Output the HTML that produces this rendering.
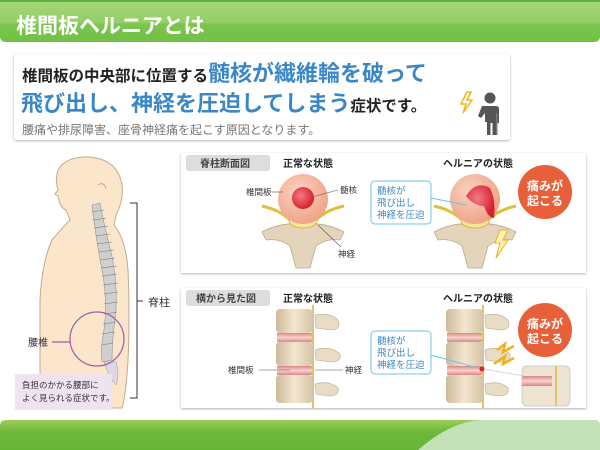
<!DOCTYPE html>
<html><head><meta charset="utf-8"><style>
html,body{margin:0;padding:0;background:#fff}
svg{display:block}
text{font-family:"Liberation Sans","Noto Sans CJK JP",sans-serif}
</style></head><body>
<svg width="600" height="450" viewBox="0 0 600 450" xmlns="http://www.w3.org/2000/svg">
<defs>
<linearGradient id="hg" x1="0" y1="0" x2="0" y2="1"><stop offset="0" stop-color="#a4d77c"/><stop offset="0.55" stop-color="#93cf67"/><stop offset="0.56" stop-color="#7cc64e"/><stop offset="1" stop-color="#72c045"/></linearGradient>
<linearGradient id="bg" x1="0" y1="0" x2="0" y2="1"><stop offset="0" stop-color="#9ccd55"/><stop offset="0.4" stop-color="#6db93a"/><stop offset="1" stop-color="#66b636"/></linearGradient>
<radialGradient id="disc" cx="0.4" cy="0.35" r="0.7"><stop offset="0" stop-color="#fbd2c0"/><stop offset="1" stop-color="#eea184"/></radialGradient>
<radialGradient id="nuc" cx="0.4" cy="0.4" r="0.6"><stop offset="0" stop-color="#f47a85"/><stop offset="1" stop-color="#d8202f"/></radialGradient>
<linearGradient id="vb" x1="0" y1="0" x2="1" y2="0"><stop offset="0" stop-color="#cdb99a"/><stop offset="0.5" stop-color="#f3e6cf"/><stop offset="1" stop-color="#d6c3a4"/></linearGradient>
<linearGradient id="pd" x1="0" y1="0" x2="0" y2="1"><stop offset="0" stop-color="#d9858a"/><stop offset="0.5" stop-color="#fbd3cc"/><stop offset="1" stop-color="#d9858a"/></linearGradient>
<filter id="sh" x="-5%" y="-5%" width="110%" height="115%"><feDropShadow dx="0" dy="1" stdDeviation="1.2" flood-color="#000" flood-opacity="0.3"/></filter>
</defs>

<!-- header -->
<path d="M0 0H600V36Q600 42 594 42H6Q0 42 0 36Z" fill="url(#hg)"/>
<rect x="0" y="0" width="600" height="2" fill="#5fb03a"/>
<text x="16" y="33" font-size="21" fill="#fff" font-weight="bold">椎間板ヘルニアとは</text>

<!-- intro card -->
<rect x="14" y="54" width="496" height="86" rx="3" fill="#fff" filter="url(#sh)"/>
<text x="22" y="81" font-size="15.5" font-weight="bold" fill="#222">椎間板の中央部に位置する<tspan font-size="22" fill="#3a87c8">髄核が繊維輪を破って</tspan></text>
<text x="21" y="111" font-size="22" font-weight="bold" fill="#3a87c8">飛び出し、神経を圧迫してしまう<tspan font-size="15.5" fill="#222">症状です。</tspan></text>
<text x="22" y="134" font-size="12" fill="#777">腰痛や排尿障害、座骨神経痛を起こす原因となります。</text>
<!-- person icon -->
<g fill="#555">
<circle cx="490" cy="98" r="5.5"/>
<path d="M482 106h14q3 0 3 3v14h-3v12h-3.5v-12h-2v12h-3.5v-13h-2v-9l-4 5-3-2z"/>
<rect x="496" y="113" width="1.5" height="22" fill="#777"/>
</g>
<path d="M467 92 461 104 466 104 463 113 472 100 467 100 471 92Z" fill="none" stroke="#f3b619" stroke-width="1.5"/>

<!-- body figure -->
<path d="M40 408 L40 300 Q42 262 52 240 Q62 228 70 220 L66 210 Q60 208 58 196 L55 194 L58 190 Q55 180 58 170 Q66 156 90 157 Q118 160 122 185 Q124 200 116 215 L114 225 Q126 240 128 270 Q130 320 128 360 Q126 395 122 408 Z" fill="#fbe6cc" stroke="#c5a98c" stroke-width="1"/>
<path d="M98 185 q6 -4 8 4" fill="none" stroke="#c5a98c"/>
<g fill="#cfcfcf" stroke="#888" stroke-width="0.5">
<path d="M92 205 Q96 240 102 270 Q108 300 104 330 Q100 350 102 362 L112 360 Q112 340 116 310 Q118 275 108 240 Q102 215 100 203 Z"/>
</g>
<g stroke="#777" stroke-width="0.6">
<line x1="92" y1="212" x2="104" y2="210"/><line x1="93" y1="220" x2="106" y2="218"/><line x1="94" y1="228" x2="108" y2="226"/><line x1="96" y1="236" x2="110" y2="234"/><line x1="97" y1="244" x2="112" y2="242"/><line x1="99" y1="252" x2="114" y2="250"/><line x1="100" y1="260" x2="115" y2="258"/><line x1="101" y1="268" x2="117" y2="266"/><line x1="102" y1="276" x2="117" y2="274"/><line x1="103" y1="285" x2="118" y2="283"/><line x1="104" y1="294" x2="118" y2="292"/><line x1="104" y1="304" x2="118" y2="302"/><line x1="104" y1="314" x2="117" y2="312"/><line x1="103" y1="324" x2="116" y2="322"/><line x1="102" y1="334" x2="115" y2="332"/><line x1="102" y1="345" x2="113" y2="343"/>
</g>
<path d="M104 362 Q110 380 116 385 Q120 376 116 362Z" fill="#ddd6e6" stroke="#999" stroke-width="0.5"/>
<circle cx="97" cy="339" r="27" fill="none" stroke="#a35aa6" stroke-width="1.2"/>
<line x1="52" y1="342" x2="70" y2="342" stroke="#a35aa6" stroke-width="1.2"/>
<text x="28" y="346" font-size="10" fill="#333">腰椎</text>
<rect x="15" y="374" width="97" height="36" fill="#efe3ef"/>
<text x="22" y="388" font-size="8.5" fill="#333">負担のかかる腰部に</text>
<text x="22" y="401" font-size="8.5" fill="#333">よく見られる症状です。</text>
<path d="M130 203H137V398H130M137 301H143" fill="none" stroke="#333" stroke-width="1"/>
<text x="148" y="306" font-size="11" fill="#333">脊柱</text>

<!-- panel 1 -->
<rect x="181" y="153" width="405" height="120" fill="#fff" filter="url(#sh)"/>
<rect x="186" y="155" width="84" height="16" rx="3" fill="#ddd"/>
<text x="200" y="167" font-size="10" font-weight="bold" fill="#444">脊柱断面図</text>
<text x="283" y="167" font-size="10" font-weight="bold" fill="#222">正常な状態</text>
<text x="443" y="167" font-size="10" font-weight="bold" fill="#222">ヘルニアの状態</text>

<g id="cross">
<path d="M262 232 Q280 222 303 224 Q326 222 344 232 L340 240 Q326 238 316 246 L310 268 L296 268 L290 246 Q280 238 266 240 Z" fill="#e4d4bb" stroke="#bda888" stroke-width="0.8"/>
<path d="M262 206 Q280 210 290 220 Q303 228 316 220 Q326 210 344 206" fill="none" stroke="#dcc23a" stroke-width="3"/>
<ellipse cx="303" cy="221" rx="14" ry="7" fill="#f8e59a" stroke="#d8b63a"/>
<circle cx="303" cy="199" r="25" fill="url(#disc)"/>
</g>
<circle cx="303" cy="198" r="11" fill="url(#nuc)"/>
<text x="246" y="195" font-size="8.5" fill="#333">椎間板</text>
<line x1="272" y1="192" x2="283" y2="192" stroke="#555" stroke-width="0.6"/>
<text x="340" y="193" font-size="8.5" fill="#333">髄核</text>
<line x1="338" y1="190" x2="312" y2="197" stroke="#555" stroke-width="0.6"/>
<text x="338" y="257" font-size="8.5" fill="#333">神経</text>
<line x1="341" y1="247" x2="318" y2="225" stroke="#555" stroke-width="0.6"/>

<use href="#cross" x="172"/>
<path d="M466 196 Q476 180 490 188 Q496 200 494 218 Q488 218 484 206 Q474 206 466 196Z" fill="url(#nuc)"/>
<path d="M500 230 L495 243 L500 243 L496 258 L508 240 L503 240 L508 230Z" fill="#fff3b0" stroke="#f0b020"/>
<rect x="371" y="181" width="60" height="43" rx="4" fill="#fff" stroke="#6cc4ea"/>
<line x1="431" y1="198" x2="466" y2="205" stroke="#6cc4ea"/>
<text x="377" y="194" font-size="9.5" fill="#3a87c8">髄核が</text>
<text x="377" y="206" font-size="9.5" fill="#3a87c8">飛び出し</text>
<text x="377" y="218" font-size="9.5" fill="#3a87c8">神経を圧迫</text>
<circle cx="545" cy="192" r="27" fill="#e8603a"/>
<text x="545" y="190" font-size="12" font-weight="bold" fill="#fff" text-anchor="middle">痛みが</text>
<text x="545" y="205" font-size="12" font-weight="bold" fill="#fff" text-anchor="middle">起こる</text>

<!-- panel 2 -->
<rect x="181" y="288" width="405" height="120" fill="#fff" filter="url(#sh)"/>
<rect x="186" y="290" width="84" height="16" rx="3" fill="#ddd"/>
<text x="196" y="302" font-size="10" font-weight="bold" fill="#444">横から見た図</text>
<text x="283" y="302" font-size="10" font-weight="bold" fill="#222">正常な状態</text>
<text x="443" y="302" font-size="10" font-weight="bold" fill="#222">ヘルニアの状態</text>

<g id="side">
<line x1="313" y1="305" x2="313" y2="408" stroke="#e2c460" stroke-width="2"/>
<rect x="276" y="309" width="37" height="24" rx="4" fill="url(#vb)"/>
<rect x="276" y="342" width="37" height="24" rx="4" fill="url(#vb)"/>
<rect x="276" y="375" width="37" height="28" rx="4" fill="url(#vb)"/>
<rect x="277" y="333" width="35" height="9" fill="url(#pd)"/>
<rect x="277" y="366" width="35" height="9" fill="url(#pd)"/>
<path d="M315 315 Q330 312 338 320 Q342 330 330 330 L316 328Z M315 350 Q330 345 340 354 Q342 362 330 362 L316 360Z M315 384 Q330 380 338 388 Q340 396 328 396 L316 394Z" fill="#e9dcc4" stroke="#bda888" stroke-width="0.6"/>
</g>
<text x="228" y="373" font-size="8.5" fill="#333">椎間板</text>
<line x1="259" y1="370" x2="290" y2="370" stroke="#555" stroke-width="0.6"/>
<text x="345" y="373" font-size="8.5" fill="#333">神経</text>
<line x1="315" y1="370" x2="343" y2="370" stroke="#555" stroke-width="0.6"/>

<use href="#side" x="170"/>
<circle cx="482" cy="369" r="2.5" fill="#d8202f"/>
<path d="M497 350 L505 344 L503 352 L514 346 M494 364 L505 356 L503 364 L514 358" fill="none" stroke="#f0b020" stroke-width="2.5"/>
<rect x="522" y="366" width="48" height="40" rx="5" fill="#efe4d2" stroke="#ccc"/>
<rect x="522" y="376" width="30" height="10" fill="url(#pd)"/>
<line x1="556" y1="366" x2="556" y2="406" stroke="#e2c460" stroke-width="2"/>
<line x1="484" y1="369" x2="524" y2="376" stroke="#ccc" stroke-width="0.8"/>
<rect x="371" y="331" width="60" height="43" rx="4" fill="#fff" stroke="#6cc4ea"/>
<line x1="431" y1="355" x2="478" y2="368" stroke="#6cc4ea"/>
<text x="377" y="344" font-size="9.5" fill="#3a87c8">髄核が</text>
<text x="377" y="356" font-size="9.5" fill="#3a87c8">飛び出し</text>
<text x="377" y="368" font-size="9.5" fill="#3a87c8">神経を圧迫</text>
<circle cx="545" cy="330" r="27" fill="#e8603a"/>
<text x="545" y="328" font-size="12" font-weight="bold" fill="#fff" text-anchor="middle">痛みが</text>
<text x="545" y="343" font-size="12" font-weight="bold" fill="#fff" text-anchor="middle">起こる</text>

<!-- footer -->
<path d="M0 426Q0 420 6 420H594Q600 420 600 426V450H0Z" fill="url(#bg)"/>
<path d="M418 450Q450 422 480 420H594Q600 420 600 426V450Z" fill="#c4e2b8"/>
</svg>
</body></html>
